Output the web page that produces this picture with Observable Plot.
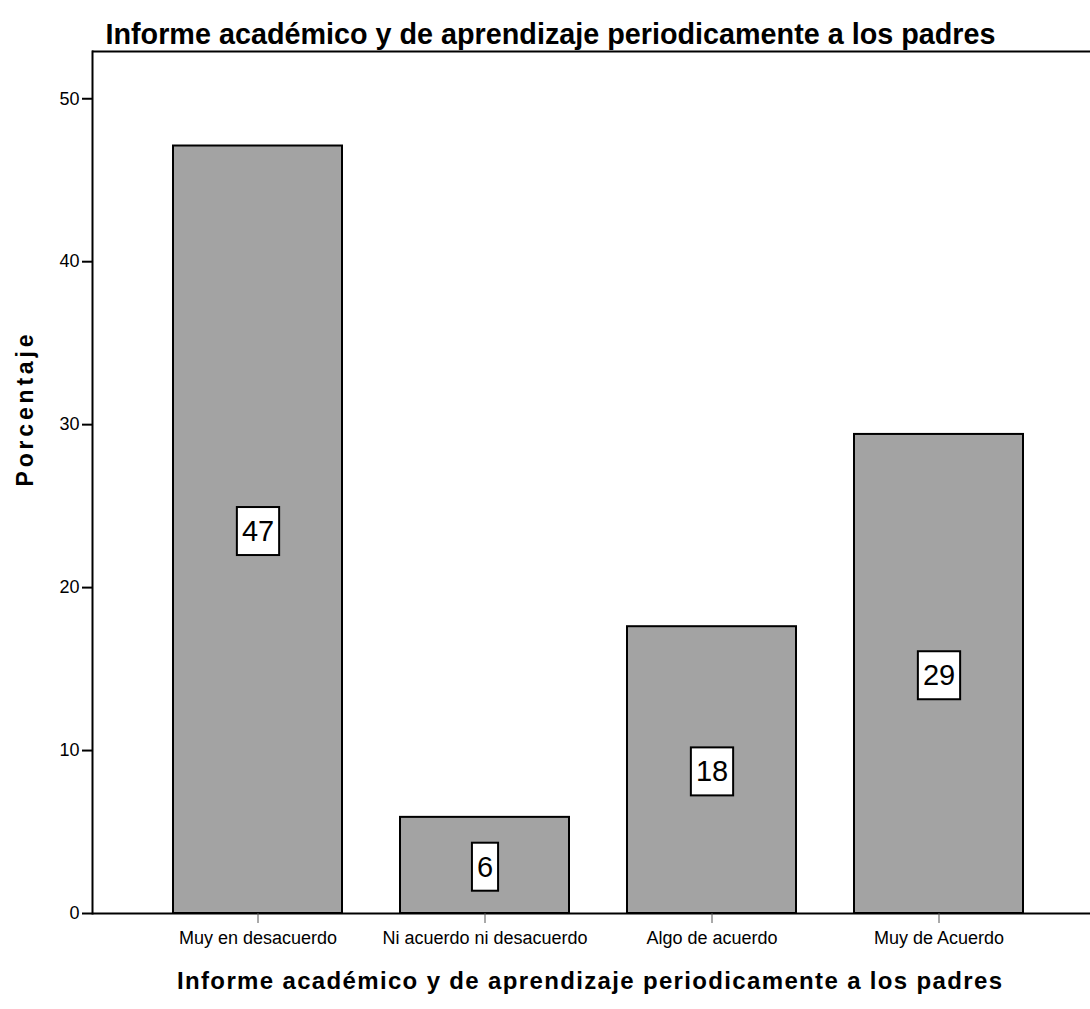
<!DOCTYPE html>
<html>
<head>
<meta charset="utf-8">
<script src="https://cdn.jsdelivr.net/npm/d3@7"></script>
<script src="https://cdn.jsdelivr.net/npm/@observablehq/plot@0.6"></script>
<style>
  html, body { margin: 0; padding: 0; background: #fff; }
  svg { display: block; }
</style>
</head>
<body>
<script>
const categories = ["Muy en desacuerdo", "Ni acuerdo ni desacuerdo", "Algo de acuerdo", "Muy de Acuerdo"];
const percentages = [47.1, 5.9, 17.6, 29.4];
const barLabels = ["47", "6", "18", "29"];
const yTicks = [0, 10, 20, 30, 40, 50];
const yMax = 52.9;
const titleText = "Informe académico y de aprendizaje periodicamente a los padres";
const xTitleText = "Informe académico y de aprendizaje periodicamente a los padres";
const yTitleText = "Porcentaje";

const data = categories.map((c, i) => ({cat: c, pct: percentages[i], label: barLabels[i]}));

const plot = Plot.plot({
  width: 1090,
  height: 1009,
  marginLeft: 92,
  marginRight: 0,
  marginTop: 51,
  marginBottom: 96,
  style: {fontFamily: "'Liberation Sans', Arial, sans-serif", background: "#fff", overflow: "visible", color: "#000"},
  x: {type: "band", domain: categories, range: [92, 1105], paddingInner: 0.254, paddingOuter: 0.351, label: null},
  y: {domain: [0, yMax], label: null},
  marks: [
    Plot.barY(data, {x: "cat", y: "pct", fill: "#a3a3a3", stroke: "#000", strokeWidth: 2}),
    Plot.ruleY([0], {stroke: "#000", strokeWidth: 2}),
    Plot.ruleY([yMax], {stroke: "#000", strokeWidth: 2}),
    Plot.frame({anchor: "left", stroke: "#000", strokeWidth: 2}),
    Plot.axisY({ticks: yTicks, tickSize: 10, tickPadding: 3, fontSize: 18, tickFormat: d => String(d), label: null, strokeWidth: 2}),
    Plot.axisX({tickSize: 10, tickPadding: 8, fontSize: 18, label: null, stroke: "#555"}),
    Plot.text(data, {x: "cat", y: d => d.pct / 2, text: "label", fontSize: 29, dy: 2, fill: "#000", className: "vlabel"}),
    Plot.text([yTitleText], {frameAnchor: "left", dx: -67, dy: 4, rotate: -90, fontSize: 23, fontWeight: "bold", fill: "#000", className: "ytitle"}),
    Plot.text([xTitleText], {frameAnchor: "bottom", dx: -2, dy: 75, fontSize: 24, fontWeight: "bold", fill: "#000", className: "xtitle"}),
    Plot.text([titleText], {frameAnchor: "top", dx: -41, dy: -28, fontSize: 29, fontWeight: "bold", fill: "#000", className: "ctitle",
      fontFamily: "'Liberation Sans Narrow', 'Liberation Sans', Arial, sans-serif"})
  ]
});

document.body.appendChild(plot);

const allTexts = Array.from(plot.querySelectorAll("text"));
function pick(cls, pred) {
  let nodes = Array.from(plot.querySelectorAll("." + cls + " text, text." + cls));
  if (!nodes.length) nodes = allTexts.filter(pred);
  return nodes;
}

const labelNodes = pick("vlabel", t => barLabels.includes(t.textContent));
labelNodes.forEach(node => {
  const b = node.getBBox();
  const padX = 5, padY = 10;
  const r = document.createElementNS("http://www.w3.org/2000/svg", "rect");
  r.setAttribute("x", b.x - padX);
  r.setAttribute("y", b.y - padY + 2);
  r.setAttribute("width", b.width + 2 * padX);
  r.setAttribute("height", b.height + 2 * padY - 4);
  r.setAttribute("fill", "#fff");
  r.setAttribute("stroke", "#000");
  r.setAttribute("stroke-width", 2);
  const t = node.getAttribute("transform");
  if (t) r.setAttribute("transform", t);
  node.parentNode.insertBefore(r, node);
});

allTexts.filter(t => t.textContent === xTitleText).forEach(n => {
  const bb = n.getBoundingClientRect();
  if (bb.top > 500) { n.setAttribute("textLength", 825); n.setAttribute("lengthAdjust", "spacing"); }
  else { n.setAttribute("textLength", 890); n.setAttribute("lengthAdjust", "spacingAndGlyphs"); }
});
allTexts.filter(t => t.textContent === yTitleText).forEach(n => {
  n.setAttribute("textLength", 152); n.setAttribute("lengthAdjust", "spacing");
});
</script>
</body>
</html>
